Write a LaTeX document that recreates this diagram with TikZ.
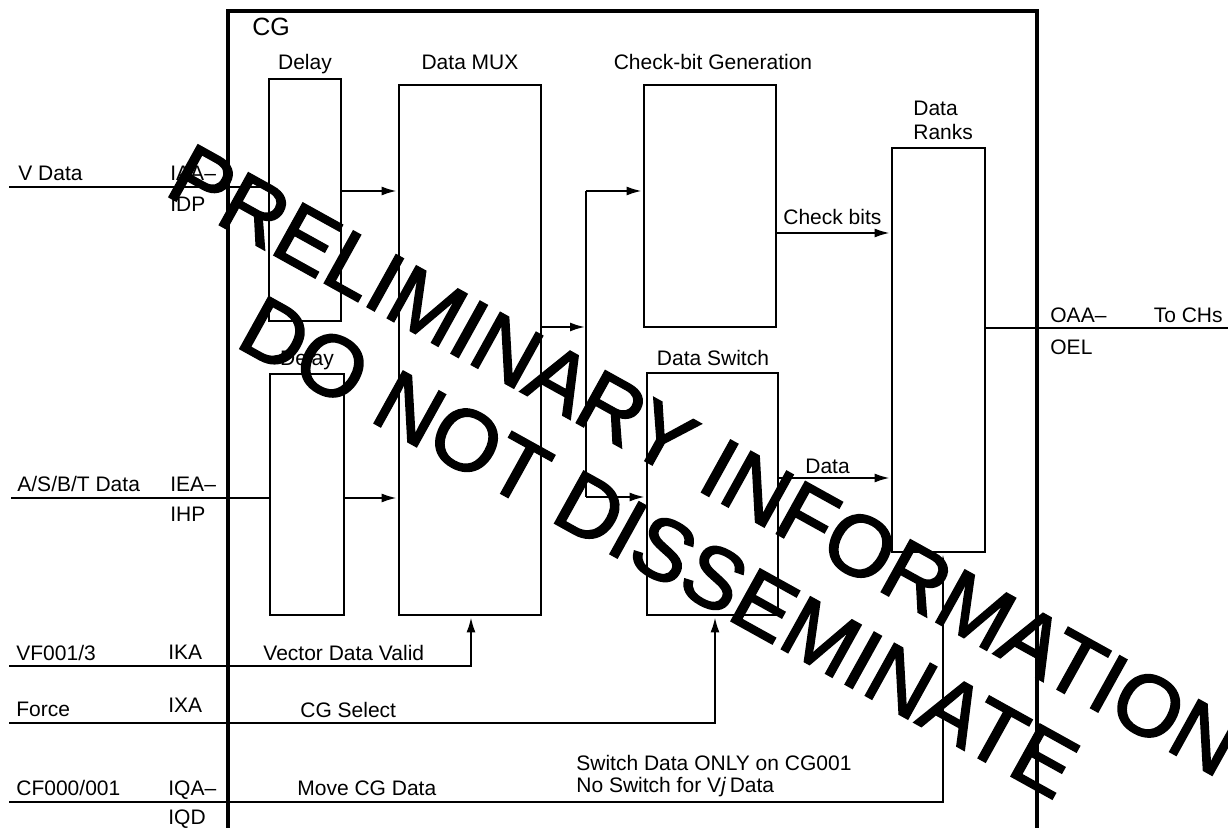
\documentclass[tikz,border=0pt]{standalone}
\usepackage{fontspec}
\setmainfont{Liberation Sans}
\newfontfamily\wmfont[FakeBold=2]{Liberation Sans}
\usetikzlibrary{arrows.meta}
\begin{document}
\begin{tikzpicture}[x=0.5pt,y=-0.5pt,
  box/.style={draw, line width=1.4pt, inner sep=0, minimum width=#1},
  wire/.style={line width=1.4pt},
  arr/.style={line width=1.4pt, -{Latex[length=8pt,width=4.5pt]}},
  frame/.style={line width=1.6pt},
  lbl/.style={inner sep=0, font=\fontsize{10.5}{12.6}\selectfont},
  big/.style={inner sep=0, font=\fontsize{12.5}{15}\selectfont},
  wm/.style={inner sep=0, rotate=-29, font=\wmfont\fontsize{43.2}{50}\selectfont}]
\fill[white] (0,0) rectangle (1228,828);
\useasboundingbox (0,0) rectangle (1228,828);

% CG frame
\coordinate (cgbl) at (228,828);
\coordinate (cgtl) at (228,11);
\coordinate (cgtr) at (1037,11);
\coordinate (cgbr) at (1037,828);
\draw[frame] (cgbl) -- (cgtl) -- (cgtr) -- (cgbr);
\node[big, anchor=base west] (cg) at (252,36) {CG};

% boxes
\node[box=36pt, minimum height=121pt] (dly1) at (305,200) {};
\node[box=37pt, minimum height=120.5pt] (dly2) at (307,494.5) {};
\node[box=71pt, minimum height=265pt] (mux) at (470,350) {};
\node[box=66pt, minimum height=121pt] (chk) at (710,206) {};
\node[box=65.5pt, minimum height=121pt] (sw) at (712.5,494) {};
\node[box=46.5pt, minimum height=202pt] (rank) at (938.5,350) {};

% box titles
\node[lbl, anchor=base] (tdly1) at (305,70) {Delay};
\node[lbl, anchor=base] (tmux) at (470,70) {Data MUX};
\node[lbl, anchor=base] (tchk) at (713,70) {Check-bit Generation};
\node[lbl, anchor=base west] (trank1) at (913,116) {Data};
\node[lbl, anchor=base west] (trank2) at (913,140) {Ranks};
\node[lbl, anchor=base] (tdly2) at (307,366) {Delay};
\node[lbl, anchor=base] (tsw) at (713,366) {Data Switch};

% row coordinates
\coordinate (vin) at (9,187);
\coordinate (r1) at (0,191);
\coordinate (ain) at (11,498);
\coordinate (rmo) at (0,327);
\coordinate (rck) at (0,233);
\coordinate (rd) at (0,478);
\coordinate (rsw) at (0,497);
\coordinate (rout) at (0,328);
\coordinate (bus) at (586,0);
\coordinate (outend) at (1228,328);
\coordinate (vfin) at (9,666);
\coordinate (fin) at (9,723);
\coordinate (cfin) at (9,802);
\coordinate (vfx) at (471,0);
\coordinate (fx) at (715,0);
\coordinate (cfx) at (943,0);

% connectors
\draw[wire] (vin) -- (vin -| dly1.west);
\draw[arr] (dly1.east |- r1) -- (mux.west |- r1);
\draw[wire] (ain) -- (ain -| dly2.west);
\draw[arr] (dly2.east |- ain) -- (mux.west |- ain);
\draw[arr] (mux.east |- rmo) -- (bus |- rmo);
\draw[wire] (bus |- r1) -- (bus |- rsw);
\draw[arr] (bus |- r1) -- (chk.west |- r1);
\draw[arr] (bus |- rsw) -- (sw.west |- rsw);
\draw[arr] (chk.east |- rck) -- (rank.west |- rck);
\draw[arr] (sw.east |- rd) -- (rank.west |- rd);
\draw[wire] (rank.east |- rout) -- (outend);
\draw[arr] (vfin) -| (vfx |- mux.south);
\draw[arr] (fin) -| (fx |- sw.south);
\draw[arr] (cfin) -| (cfx |- rank.south);

% signal labels
\node[lbl, anchor=base west] (lv) at (18,181) {V Data};
\node[lbl, anchor=base west] (lv1) at (170,181) {IAA–};
\node[lbl, anchor=base west] (lv2) at (170,212) {IDP};
\node[lbl, anchor=base west] (la) at (17,492) {A/S/B/T Data};
\node[lbl, anchor=base west] (la1) at (170,492) {IEA–};
\node[lbl, anchor=base west] (la2) at (170,522) {IHP};
\node[lbl, anchor=base west] (lck) at (783,225) {Check bits};
\node[lbl, anchor=base west] (ld) at (805,474) {Data};
\node[lbl, anchor=base west] (lo1) at (1050,323) {OAA–};
\node[lbl, anchor=base west] (lo2) at (1050,355) {OEL};
\node[lbl, anchor=base east] (lo3) at (1223,323) {To CHs};
\node[lbl, anchor=base west] (lvf) at (16,661) {VF001/3};
\node[lbl, anchor=base west] (lvf1) at (168,660) {IKA};
\node[lbl, anchor=base west] (lvf2) at (263,661) {Vector Data Valid};
\node[lbl, anchor=base west] (lf) at (16,717) {Force};
\node[lbl, anchor=base west] (lf1) at (168,713) {IXA};
\node[lbl, anchor=base west] (lf2) at (300,718) {CG Select};
\node[lbl, anchor=base west] (lc) at (16,796) {CF000/001};
\node[lbl, anchor=base west] (lc1) at (168,796) {IQA–};
\node[lbl, anchor=base west] (lc3) at (168,825) {IQD};
\node[lbl, anchor=base west] (lc2) at (297,796) {Move CG Data};
\node[lbl, anchor=base west] (ln1) at (576,771) {Switch Data ONLY on CG001};
\node[lbl, anchor=base west] (ln2) at (576,793) {No Switch for V\textit{j}\,Data};

% watermark
\node[wm] (wm1) at (705,460) {PRELIMINARY INFORMATION};
\node[wm] (wm2) at (659,547) {DO NOT DISSEMINATE};
\end{tikzpicture}
\end{document}
